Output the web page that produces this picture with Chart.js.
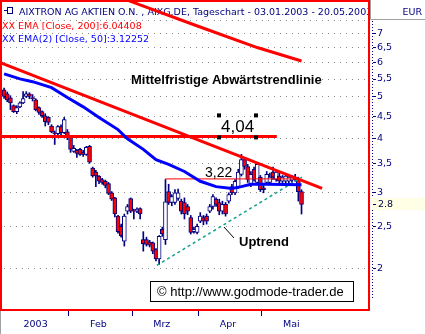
<!DOCTYPE html>
<html>
<head>
<meta charset="utf-8">
<script src="https://cdn.jsdelivr.net/npm/chart.js@4.4.1/dist/chart.umd.min.js"></script>
<style>
  html, body { margin: 0; padding: 0; background: #fff; }
</style>
</head>
<body>
<canvas id="chart" width="425" height="334"></canvas>
<script>
// trading days: index 0 = 03.01.2003 ... index 94 = 20.05.2003
const opens = [
  5.18, 5.07, 4.96, 4.76, 4.61, 4.73, 4.83, 5.00, 5.07, 4.97,
  4.91, 4.71, 4.61, 4.51, 4.47, 4.27, 4.12, 4.10, 4.26, 4.12,
  4.14, 4.04, 3.73, 3.75, 3.77, 3.71, 3.67, 3.83, 3.41, 3.34,
  3.27, 3.21, 3.18, 3.14, 2.99, 2.91, 2.64, 2.50, 2.31, 2.71,
  2.90, 2.72, 2.71, 2.75, 2.33, 2.33, 2.30, 2.29, 2.21, 2.10,
  2.46, 2.33, 3.01, 2.84, 2.84, 2.90, 2.86, 2.84, 2.78, 2.62,
  2.43, 2.42, 2.57, 2.62, 2.64, 2.71, 2.78, 2.89, 2.84, 2.71,
  2.81, 2.86, 3.09, 2.99, 3.09, 3.30, 3.57, 3.44, 3.13, 3.39,
  3.16, 3.25, 3.07, 3.16, 3.16, 3.34, 3.21, 3.27, 3.18, 3.18,
  3.18, 3.20, 3.21, 3.21, 3.01
];
const highs = [
  5.23, 5.12, 5.02, 4.78, 4.76, 4.86, 5.13, 5.13, 5.10, 5.05,
  4.94, 4.73, 4.63, 4.56, 4.49, 4.30, 4.16, 4.28, 4.30, 4.47,
  4.19, 4.06, 3.85, 3.77, 3.79, 3.75, 3.83, 3.85, 3.43, 3.37,
  3.28, 3.23, 3.20, 3.16, 3.01, 2.92, 2.65, 2.53, 2.67, 2.81,
  2.91, 2.74, 2.76, 2.76, 2.43, 2.36, 2.32, 2.30, 2.22, 2.38,
  2.49, 3.21, 3.13, 2.96, 3.04, 3.05, 2.89, 2.91, 2.81, 2.65,
  2.49, 2.53, 2.69, 2.65, 2.67, 2.81, 2.96, 2.91, 2.89, 2.86,
  2.84, 2.99, 3.13, 3.21, 3.39, 3.67, 3.61, 3.48, 3.35, 3.43,
  3.50, 3.28, 3.13, 3.35, 3.32, 3.43, 3.37, 3.32, 3.28, 3.30,
  3.28, 3.28, 3.30, 3.25, 3.04
];
const lows = [
  4.95, 4.86, 4.66, 4.59, 4.56, 4.71, 4.81, 4.97, 4.94, 4.88,
  4.63, 4.54, 4.47, 4.27, 4.30, 4.12, 3.87, 4.06, 4.02, 4.10,
  3.97, 3.71, 3.71, 3.61, 3.65, 3.63, 3.65, 3.50, 3.25, 3.09,
  3.14, 3.13, 3.07, 2.96, 2.87, 2.63, 2.41, 2.36, 2.25, 2.67,
  2.69, 2.60, 2.69, 2.60, 2.19, 2.25, 2.24, 2.16, 2.08, 2.04,
  2.37, 2.27, 2.81, 2.79, 2.81, 2.87, 2.67, 2.60, 2.66, 2.40,
  2.41, 2.40, 2.55, 2.52, 2.53, 2.69, 2.74, 2.78, 2.66, 2.67,
  2.64, 2.83, 2.96, 2.96, 3.06, 3.27, 3.39, 3.16, 3.09, 3.18,
  3.13, 3.01, 2.99, 3.13, 3.13, 3.21, 3.18, 3.14, 3.13, 3.14,
  3.14, 3.16, 3.18, 2.86, 2.67
];
const closes = [
  5.00, 4.91, 4.83, 4.61, 4.71, 4.83, 4.94, 5.07, 5.00, 4.94,
  4.66, 4.59, 4.51, 4.37, 4.35, 4.14, 4.10, 4.26, 4.12, 4.42,
  4.04, 3.77, 3.79, 3.69, 3.67, 3.67, 3.81, 3.52, 3.27, 3.27,
  3.18, 3.16, 3.11, 2.98, 2.89, 2.67, 2.43, 2.38, 2.64, 2.78,
  2.71, 2.71, 2.74, 2.67, 2.28, 2.27, 2.26, 2.19, 2.10, 2.37,
  2.40, 2.85, 2.84, 2.93, 2.99, 2.99, 2.71, 2.67, 2.71, 2.42,
  2.46, 2.50, 2.64, 2.57, 2.57, 2.78, 2.93, 2.81, 2.71, 2.81,
  2.67, 2.96, 2.99, 3.18, 3.34, 3.57, 3.44, 3.21, 3.30, 3.21,
  3.48, 3.04, 3.04, 3.30, 3.25, 3.25, 3.34, 3.18, 3.25, 3.27,
  3.25, 3.25, 3.25, 3.01, 2.81
];

// indicator lines at a few days
const ema200Days = [0, 20, 40, 60, 80, 94];
const ema200 = [10.6, 9.40, 8.30, 7.33, 6.49, 6.04];
const ema50Days = [0, 5, 9, 15, 20, 25, 30, 36, 39, 44, 48, 52, 57, 62, 67, 72, 75, 78, 83, 94];
const ema50 = [5.64, 5.49, 5.41, 5.24, 4.97, 4.73, 4.47, 4.19, 3.99, 3.77, 3.57, 3.48, 3.35, 3.18, 3.09, 3.06, 3.09, 3.13, 3.13, 3.12];

// drawn trend lines
const downTrendDays = [-1, 100.5];
const downTrend = [5.98, 3.06];
const upTrendDays = [48.3, 94.1];
const upTrend = [2.03, 3.25];
const resistDays = [-1, 86.2];
const resist = [4.04, 4.04];
const markDays = [50.9, 92.6];
const mark = [3.22, 3.22];

const monthStarts = [-0.5, 20.5, 40.5, 61.5, 81.5];
const monthLabels = ['2003', 'Feb', 'Mrz', 'Apr', 'Mai'];
const priceTicks = [2, 2.5, 3, 3.5, 4, 4.5, 5, 5.5, 6, 6.5, 7, 7.5];

const navy = '#000080';
const axisFont = 'DejaVu Sans';

function pts(days, vals) {
  return days.map((d, k) => ({ x: d, y: vals[k] }));
}

function lineSet(label, days, vals, color, width, dash) {
  return {
    type: 'line', label: label, data: pts(days, vals),
    borderColor: color, borderWidth: width, borderDash: dash || [],
    pointRadius: 0, tension: 0, clip: 0
  };
}

const bodyColors = closes.map((c, i) => c < opens[i] ? '#ff0000' : '#ffffff');

const headerPlugin = {
  id: 'header',
  beforeDatasetsDraw(chart) {
    const ctx = chart.ctx;
    const a = chart.chartArea;
    const y = chart.scales.y;
    ctx.save();
    // dotted price grid
    ctx.fillStyle = '#8c8c8c';
    y.ticks.forEach(t => {
      const py = Math.round(y.getPixelForValue(t.value));
      for (let px = a.left + 3; px < a.right - 1; px += 6) ctx.fillRect(px, py, 1, 1);
    });
    ctx.beginPath();
    ctx.rect(a.left + 1, a.top + 1, a.right - a.left - 2, 48);
    ctx.clip();
    ctx.font = '9.5px "' + axisFont + '"';
    ctx.textBaseline = 'alphabetic';
    // small symbol before the title
    ctx.strokeStyle = navy;
    ctx.lineWidth = 1;
    ctx.strokeRect(7.5, 7.5, 5, 6);
    ctx.beginPath();
    ctx.moveTo(4, 10.5); ctx.lineTo(7.5, 10.5);
    ctx.stroke();
    ctx.fillStyle = navy;
    ctx.fillText('AIXTRON AG AKTIEN O.N. , AIXG.DE, Tageschart - 03.01.2003 - 20.05.2003', 19, 15);
    ctx.fillStyle = '#ff0000';
    ctx.fillText('XX EMA [Close, 200]:6.04408', 2, 29);
    ctx.fillStyle = '#0000ff';
    ctx.fillText('XX EMA(2) [Close, 50]:3.12252', 2, 42);
    ctx.restore();
  }
};

const notesPlugin = {
  id: 'notes',
  afterDatasetsDraw(chart) {
    const ctx = chart.ctx;
    const y = chart.scales.y;
    ctx.save();
    ctx.fillStyle = '#000';
    ctx.textBaseline = 'alphabetic';
    ctx.font = 'bold 13px "Liberation Sans"';
    ctx.fillText('Mittelfristige Abwärtstrendlinie', 131, 84);
    ctx.fillText('Uptrend', 239, 246);
    const y404 = y.getPixelForValue(resist[0]);
    ctx.font = '17px "Liberation Sans"';
    ctx.fillText('4,04', 221, y404 - 4);
    [[217, y404 - 23], [254, y404 - 23], [217, y404 - 1], [254, y404 - 1]].forEach(p => {
      ctx.fillRect(p[0], p[1], 4, 4);
    });
    const y322 = y.getPixelForValue(mark[0]);
    ctx.font = '14px "Liberation Sans"';
    ctx.fillText('3,22', 205, y322 - 1.5);
    ctx.strokeStyle = '#000';
    ctx.lineWidth = 1;
    ctx.beginPath();
    ctx.moveTo(224, 227); ctx.lineTo(234, 238);
    ctx.stroke();
    // copyright box
    ctx.fillStyle = '#fff';
    ctx.fillRect(150, 281, 203, 20);
    ctx.strokeRect(150.5, 281.5, 203, 20);
    ctx.fillStyle = '#000';
    ctx.font = '13px "Liberation Sans"';
    ctx.fillText('\u00a9 http://www.godmode-trader.de', 157, 296);
    ctx.restore();
  },
  afterDraw(chart) {
    const ctx = chart.ctx;
    const a = chart.chartArea;
    const y = chart.scales.y;
    ctx.save();
    // plot frame
    ctx.strokeStyle = '#ff0000';
    ctx.lineWidth = 2;
    ctx.strokeRect(a.left, a.top, a.right - a.left, a.bottom - a.top);
    // header box of the price axis
    ctx.strokeStyle = '#a0a0a0';
    ctx.lineWidth = 1;
    ctx.beginPath();
    ctx.moveTo(370.5, 0); ctx.lineTo(370.5, 19.5); ctx.lineTo(425, 19.5);
    ctx.moveTo(0.5, a.bottom + 1); ctx.lineTo(0.5, 334);
    ctx.stroke();
    ctx.fillStyle = navy;
    ctx.font = '9.5px "' + axisFont + '"';
    ctx.textAlign = 'right';
    ctx.fillText('EUR', 422, 15);
    // dotted axis line and tick marks
    ctx.strokeStyle = navy;
    ctx.setLineDash([1, 2]);
    ctx.beginPath();
    ctx.moveTo(372.5, 21); ctx.lineTo(372.5, 300);
    ctx.stroke();
    ctx.setLineDash([]);
    ctx.beginPath();
    priceTicks.forEach(v => {
      if (v === 7.5) return;
      const py = Math.round(y.getPixelForValue(v)) + 0.5;
      ctx.moveTo(373, py); ctx.lineTo(376, py);
    });
    ctx.stroke();
    // last close marker
    const last = closes[closes.length - 1];
    const ly = y.getPixelForValue(last);
    ctx.fillStyle = '#ffffe6';
    ctx.fillRect(371, Math.round(ly) - 6, 54, 12);
    ctx.beginPath();
    ctx.moveTo(373, Math.round(ly) + 0.5); ctx.lineTo(376, Math.round(ly) + 0.5);
    ctx.stroke();
    ctx.fillStyle = '#000040';
    ctx.textAlign = 'left';
    ctx.textBaseline = 'middle';
    ctx.fillText(last.toFixed(1), 378, ly);
    ctx.restore();
  }
};

function noPad(s) {
  s.paddingTop = 0;
  s.paddingBottom = 0;
  s.paddingLeft = 0;
  s.paddingRight = 0;
}

new Chart(document.getElementById('chart'), {
  type: 'line',
  data: {
    datasets: [
      lineSet('EMA 200', ema200Days, ema200, '#ff0000', 3),
      lineSet('Abwärtstrend', downTrendDays, downTrend, '#ff0000', 3),
      lineSet('EMA 50', ema50Days, ema50, '#0000ff', 3),
      lineSet('4,04', resistDays, resist, '#ff0000', 3),
      lineSet('3,22', markDays, mark, '#ff0000', 1),
      lineSet('Uptrend', upTrendDays, upTrend, '#10a08c', 1.5, [3, 3]),
      {
        type: 'bar', label: 'Body',
        data: opens.map((o, i) => ({ x: i, y: [o, closes[i]] })),
        backgroundColor: bodyColors, borderColor: navy, borderWidth: 1,
        borderSkipped: false, barThickness: 4, minBarLength: 1, grouped: false
      },
      {
        type: 'bar', label: 'Wick',
        data: lows.map((l, i) => ({ x: i, y: [l, highs[i]] })),
        backgroundColor: navy, barThickness: 1, grouped: false
      }
    ]
  },
  options: {
    responsive: false,
    animation: false,
    layout: { padding: { left: 1, top: 1, right: 0, bottom: 0 } },
    plugins: { legend: { display: false }, tooltip: { enabled: false } },
    scales: {
      x: {
        type: 'linear', min: -0.98, max: 115.33, offset: false,
        afterBuildTicks: s => { s.ticks = monthStarts.map(v => ({ value: v })); },
        afterFit: s => { s.height = 24; noPad(s); },
        grid: {
          drawOnChartArea: false, drawTicks: true, tickLength: 6, offset: false,
          color: navy, tickColor: c => c.index === 0 ? 'rgba(0,0,0,0)' : navy
        },
        border: { display: false },
        ticks: {
          color: navy, font: { family: axisFont, size: 9.5 }, padding: 3,
          align: 'start', labelOffset: 21, maxRotation: 0, autoSkip: false,
          callback: (v, i) => monthLabels[i]
        }
      },
      y: {
        type: 'logarithmic', position: 'right', min: 1.608, max: 8.32,
        afterBuildTicks: s => { s.ticks = priceTicks.map(v => ({ value: v })); },
        afterFit: s => { s.width = 56; noPad(s); },
        grid: { display: false, drawTicks: false },
        border: { display: false },
        ticks: {
          color: navy, font: { family: axisFont, size: 9.5 }, padding: 8, autoSkip: false,
          callback: v => v === 7.5 ? '' : String(v).replace('.', ',')
        }
      }
    }
  },
  plugins: [headerPlugin, notesPlugin]
});
</script>
</body>
</html>
